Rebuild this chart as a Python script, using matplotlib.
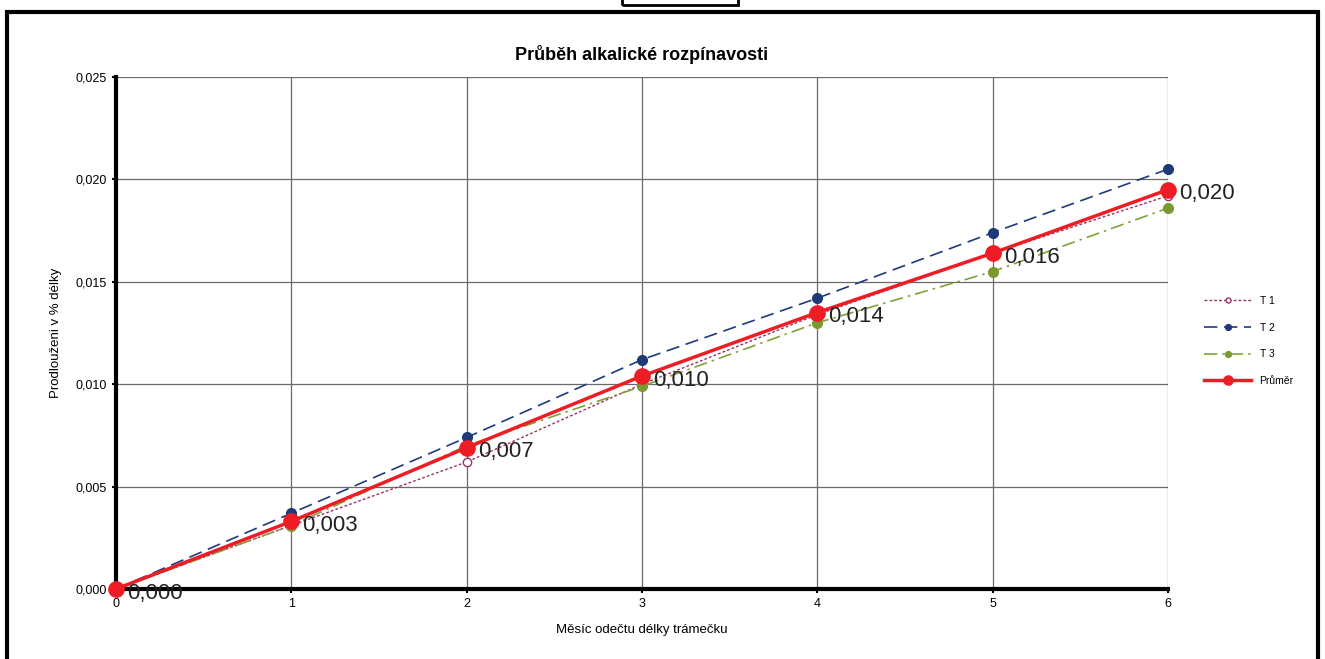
import matplotlib.pyplot as plt
from matplotlib.patches import Rectangle

# months of reading
months = [0, 1, 2, 3, 4, 5, 6]

# elongation in % of length
t1 = [0.0, 0.0031, 0.0062, 0.0100, 0.0134, 0.0164, 0.0192]
t2 = [0.0, 0.0037, 0.0074, 0.0112, 0.0142, 0.0174, 0.0205]
t3 = [0.0, 0.0031, 0.0070, 0.0099, 0.0130, 0.0155, 0.0186]
prumer = [0.0, 0.0033, 0.0069, 0.0104, 0.0135, 0.0164, 0.0195]
prumer_labels = ['0,000', '0,003', '0,007', '0,010', '0,014', '0,016', '0,020']

y_ticks = [0.0, 0.005, 0.010, 0.015, 0.020, 0.025]
y_ticklabels = ['0,000', '0,005', '0,010', '0,015', '0,020', '0,025']

plt.rcParams['font.family'] = ['Liberation Sans', 'DejaVu Sans']

fig = plt.figure(figsize=(13.25, 6.59), dpi=100)
ax = fig.add_axes([116 / 1325, 70 / 659, (1168 - 116) / 1325, (589 - 77) / 659])

# outer frame and little box at the top
fig.add_artist(Rectangle((7 / 1325, -0.05), (1318 - 7) / 1325, 1.05 - 12 / 659,
                         transform=fig.transFigure, fill=False, lw=3, ec='black'))
fig.add_artist(Rectangle((622 / 1325, 1 - 5 / 659), (738 - 622) / 1325, 0.05,
                         transform=fig.transFigure, fill=False, lw=2, ec='black'))

ax.plot(months, t1, linestyle=(0, (2, 1.5)), color='#993366', lw=1,
        marker='o', markersize=6, markerfacecolor='white', markeredgecolor='#993366',
        label='T 1', clip_on=False)
ax.plot(months, t2, linestyle=(0, (8, 4)), color='#1f3a7a', lw=1.2,
        marker='o', markersize=7, markerfacecolor='#1f3a7a', markeredgecolor='#1f3a7a',
        label='T 2', clip_on=False)
ax.plot(months, t3, linestyle=(0, (8, 3, 1.5, 3)), color='#7fa33a', lw=1.2,
        marker='o', markersize=7, markerfacecolor='#7a9a30', markeredgecolor='#7a9a30',
        label='T 3', clip_on=False)
ax.plot(months, prumer, '-', color='#ee1c25', lw=2.5,
        marker='o', markersize=11, label='Průměr', zorder=5, clip_on=False)

for x, y, lab in zip(months, prumer, prumer_labels):
    ax.annotate(lab, (x, y), xytext=(8, -3), textcoords='offset points',
                fontsize=16, va='center', ha='left', color='#222222', zorder=6)

ax.set_xlim(0, 6)
ax.set_ylim(0, 0.025)
ax.set_xticks(months)
ax.set_yticks(y_ticks)
ax.set_yticklabels(y_ticklabels)
ax.tick_params(labelsize=9, length=3, width=1.5, direction='out')
ax.grid(True, color='#6a6a6a', lw=0.9)
ax.set_axisbelow(True)

for s in ['top', 'right']:
    ax.spines[s].set_visible(False)
for s in ['left', 'bottom']:
    ax.spines[s].set_linewidth(3)

ax.set_title('Průběh alkalické rozpínavosti', fontsize=13, fontweight='bold', pad=12)
ax.set_xlabel('Měsíc odečtu délky trámečku', fontsize=9.5, labelpad=10)
ax.set_ylabel('Prodlouženi v % délky', fontsize=9.5, labelpad=10)

fig.legend(loc='center left', bbox_to_anchor=(1195 / 1325, 1 - 341 / 659), frameon=False,
           fontsize=7.5, handlelength=4.5, labelspacing=1.6, markerscale=0.6)

plt.savefig('out.png', dpi=100)
